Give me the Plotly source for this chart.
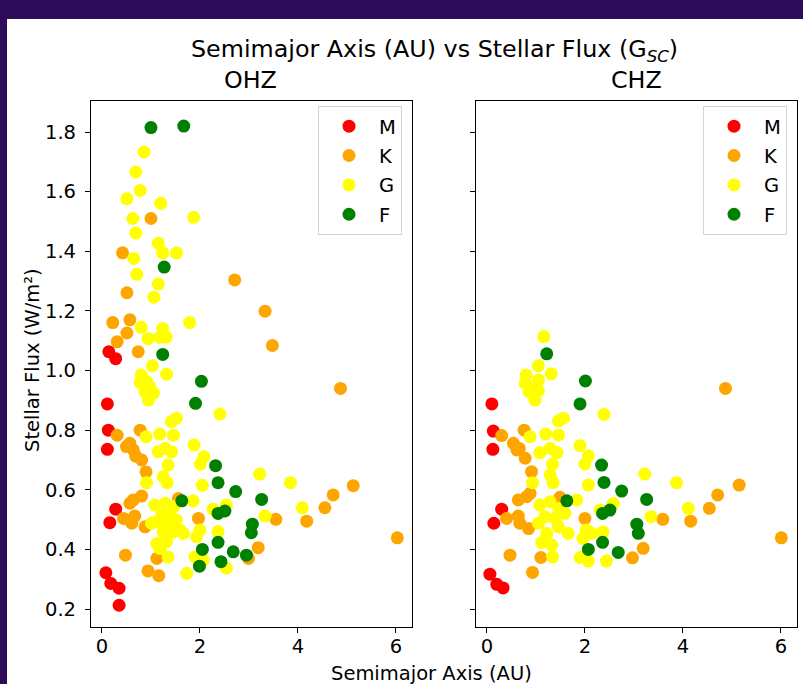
import plotly.graph_objects as go

# ---------------- data ----------------
classes = ["M", "K", "G", "F"]
class_colors = ["red", "orange", "yellow", "green"]

# OHZ panel
ohz_M_a = [0.14, 0.28, 0.11, 0.13, 0.11, 0.28, 0.16, 0.08, 0.18, 0.35, 0.35]
ohz_M_f = [1.063, 1.04, 0.888, 0.80, 0.736, 0.535, 0.49, 0.322, 0.286, 0.27, 0.213]

ohz_K_a = [1.0, 0.42, 2.71, 0.51, 3.33, 3.48, 0.22, 0.57, 0.51, 0.31, 0.74,
           0.31, 0.78, 0.57, 0.64, 0.69, 0.81, 0.50, 0.90,
           0.81, 0.64, 0.57, 1.56, 0.44, 0.61, 0.67, 0.88, 1.97, 3.55,
           3.19, 2.99, 1.12, 0.48, 0.94, 1.16,
           4.87, 5.13, 4.72, 4.55, 4.18, 6.03]
ohz_K_f = [1.51, 1.395, 1.304, 1.261, 1.199, 1.084, 1.161, 1.17, 1.126, 1.097, 1.063,
           0.783, 0.80, 0.756, 0.734, 0.713, 0.70, 0.745, 0.66,
           0.579, 0.566, 0.555, 0.571, 0.504, 0.488, 0.512, 0.476, 0.504, 0.501,
           0.406, 0.37, 0.37, 0.381, 0.328, 0.312,
           0.94, 0.614, 0.583, 0.54, 0.495, 0.439]

ohz_G_a = [0.86, 0.69, 0.78, 0.51, 1.20, 0.63, 1.87, 0.69, 1.15, 0.65, 1.24, 1.52, 0.71,
           1.15, 1.06, 1.79, 0.80, 1.24, 0.94, 1.18, 1.31, 1.03,
           0.80, 0.91, 0.78, 0.98, 0.88, 1.05, 0.95, 1.32,
           2.41, 1.52, 1.42, 0.90, 1.18, 1.46, 1.15, 1.29, 1.42, 1.88, 2.08, 2.01, 1.35,
           1.25, 1.33, 0.91, 2.05, 3.22, 3.85, 1.86,
           1.08, 1.29, 1.46, 1.22, 1.39, 1.12, 1.32, 1.52, 1.01, 1.59, 1.25, 1.46, 1.66,
           2.27, 2.54, 2.0, 1.93, 2.37, 3.33, 4.09,
           1.12, 1.32, 1.18, 1.90, 2.07, 2.54, 1.35, 1.73]
ohz_G_f = [1.733, 1.666, 1.604, 1.576, 1.561, 1.51, 1.514, 1.461, 1.427, 1.376, 1.395, 1.395, 1.323,
           1.29, 1.246, 1.161, 1.145, 1.141, 1.107, 1.112, 1.112, 1.016,
           0.985, 0.963, 0.96, 0.946, 0.929, 0.924, 0.901, 0.988,
           0.854, 0.84, 0.829, 0.778, 0.787, 0.783, 0.728, 0.739, 0.728, 0.75, 0.711, 0.687, 0.683,
           0.644, 0.624, 0.624, 0.615, 0.653, 0.624, 0.563,
           0.549, 0.555, 0.543, 0.521, 0.51, 0.493, 0.488, 0.499, 0.488, 0.465, 0.459, 0.459, 0.454,
           0.535, 0.549, 0.465, 0.443, 0.46, 0.512, 0.54,
           0.42, 0.426, 0.404, 0.375, 0.364, 0.337, 0.375, 0.32]

ohz_F_a = [1.0, 1.67, 1.27, 1.24, 2.03, 1.91, 2.32, 2.37, 2.73, 3.26, 1.63,
           2.37, 2.51, 3.07, 3.05, 2.37, 2.05, 2.68, 2.95, 1.99, 2.43]
ohz_F_f = [1.815, 1.82, 1.347, 1.054, 0.964, 0.89, 0.681, 0.624, 0.594, 0.568, 0.563,
           0.521, 0.529, 0.485, 0.456, 0.424, 0.40, 0.392, 0.381, 0.344, 0.359]

# CHZ panel
chz_M_a = [0.10, 0.13, 0.12, 0.30, 0.14, 0.06, 0.20, 0.33]
chz_M_f = [0.888, 0.797, 0.736, 0.535, 0.488, 0.317, 0.283, 0.271]

chz_K_a = [0.30, 0.76, 0.54, 0.66, 0.78, 0.61, 0.91, 0.64, 0.81, 0.88, 1.49, 0.40, 0.64,
           0.85, 0.67, 2.0, 3.59, 4.16, 4.54, 4.71, 5.15, 6.01, 3.19, 2.97, 1.10, 0.47,
           0.93, 4.87]
chz_K_f = [0.782, 0.80, 0.756, 0.739, 0.706, 0.734, 0.661, 0.566, 0.577, 0.588, 0.575, 0.504, 0.512,
           0.47, 0.488, 0.504, 0.501, 0.495, 0.538, 0.583, 0.616, 0.439, 0.404, 0.372, 0.373, 0.381,
           0.323, 0.94]

chz_G_a = [1.16, 1.05, 0.80, 1.05, 0.78, 0.91, 1.05, 0.98, 0.86, 1.31, 2.39, 1.56, 1.46,
           0.88, 1.20, 1.46, 1.08, 1.29, 1.43, 1.90, 2.07, 2.0, 1.34, 1.29, 1.35, 0.93,
           2.07, 3.22, 3.87, 1.83, 1.08, 1.29, 1.46, 1.18, 1.39, 1.05, 1.59, 1.46, 1.22,
           1.12, 1.32, 1.66, 2.31, 2.58, 2.03, 1.96, 2.37, 2.14, 3.35, 4.11, 1.90, 2.07,
           2.44, 1.34]
chz_G_f = [1.114, 1.016, 0.985, 0.968, 0.957, 0.94, 0.933, 0.901, 0.929, 0.989, 0.853, 0.84, 0.831,
           0.778, 0.787, 0.784, 0.725, 0.739, 0.725, 0.748, 0.714, 0.687, 0.686, 0.65, 0.624, 0.624,
           0.616, 0.653, 0.624, 0.566, 0.549, 0.56, 0.537, 0.51, 0.504, 0.488, 0.521, 0.476, 0.454,
           0.423, 0.415, 0.454, 0.532, 0.554, 0.465, 0.437, 0.459, 0.454, 0.51, 0.538, 0.373, 0.361,
           0.361, 0.375]

chz_F_a = [1.22, 2.01, 1.90, 2.34, 2.39, 2.75, 3.26, 1.63, 2.36, 2.51, 3.06, 3.09, 2.68, 2.36, 2.07]
chz_F_f = [1.056, 0.965, 0.888, 0.683, 0.625, 0.596, 0.568, 0.563, 0.521, 0.532, 0.485, 0.454,
           0.39, 0.424, 0.40]

x_ticks = [0, 2, 4, 6]
y_ticks = [0.2, 0.4, 0.6, 0.8, 1.0, 1.2, 1.4, 1.6, 1.8]
y_tick_labels = ["0.2", "0.4", "0.6", "0.8", "1.0", "1.2", "1.4", "1.6", "1.8"]

# ---------------- figure ----------------
FONT = "DejaVu Sans"
TICK_PX = 19.5
TITLE_PX = 23.8
MARKER = 13

ohz = {"M": (ohz_M_a, ohz_M_f), "K": (ohz_K_a, ohz_K_f),
       "G": (ohz_G_a, ohz_G_f), "F": (ohz_F_a, ohz_F_f)}
chz = {"M": (chz_M_a, chz_M_f), "K": (chz_K_a, chz_K_f),
       "G": (chz_G_a, chz_G_f), "F": (chz_F_a, chz_F_f)}

fig = go.Figure()
for panel, data, xa, ya, leg in [("ohz", ohz, "x", "y", "legend"),
                                 ("chz", chz, "x2", "y2", "legend2")]:
    for cls, col in zip(classes, class_colors):
        a, f = data[cls]
        fig.add_trace(go.Scatter(
            x=a, y=f, mode="markers", name=cls,
            marker=dict(color=col, size=MARKER, line=dict(width=0)),
            xaxis=xa, yaxis=ya, legend=leg, legendgroup=panel + cls,
        ))

axis_common = dict(
    showline=True, linecolor="black", linewidth=1.2, mirror=True,
    ticks="outside", ticklen=5, tickwidth=1.2, tickcolor="black",
    showgrid=False, zeroline=False,
    tickfont=dict(family=FONT, size=TICK_PX, color="black"),
)

x_range = [-0.224, 6.33]
y_range = [0.14, 1.904]

legend_common = dict(
    bgcolor="white", bordercolor="#d4d4d4", borderwidth=1,
    font=dict(family=FONT, size=TICK_PX, color="black"),
    traceorder="grouped", tracegroupgap=1,
    xanchor="right", yanchor="top", itemwidth=50,
)

W, H = 803, 684
L, R, T, B = 91, 6, 101, 57
pw, ph = W - L - R, H - T - B


def px(xp):
    return (xp - L) / pw


def py(yp):
    return (H - B - yp) / ph


fig.update_layout(
    width=W, height=H,
    margin=dict(l=L, r=R, t=T, b=B, pad=0),
    paper_bgcolor="#2c0b58",
    plot_bgcolor="white",
    font=dict(family=FONT, color="black"),
    xaxis=dict(domain=[0, 321 / pw], range=x_range, tickvals=x_ticks,
               ticklabelstandoff=-4, **axis_common),
    xaxis2=dict(domain=[(476 - L) / pw, 1], range=x_range, tickvals=x_ticks,
                ticklabelstandoff=-4, **axis_common),
    yaxis=dict(range=y_range, tickvals=y_ticks, ticktext=y_tick_labels,
               ticklabelstandoff=5, **axis_common),
    yaxis2=dict(range=y_range, tickvals=y_ticks, ticktext=y_tick_labels,
                showticklabels=False, matches="y", anchor="x2", **axis_common),
    legend=dict(x=px(402), y=py(106), **legend_common),
    legend2=dict(x=px(787), y=py(106), **legend_common),
    shapes=[dict(type="rect", xref="paper", yref="paper", layer="below",
                 x0=px(7), x1=px(820), y0=py(700), y1=py(19),
                 fillcolor="white", line=dict(width=0))],
    annotations=[
        dict(text="Semimajor Axis (AU) vs Stellar Flux (G<sub><i>SC</i></sub>)",
             xref="paper", yref="paper", x=px(434), y=py(33),
             xanchor="center", yanchor="top", showarrow=False,
             font=dict(size=TITLE_PX)),
        dict(text="OHZ", xref="paper", yref="paper", x=px(250.5), y=py(96),
             xanchor="center", yanchor="bottom", showarrow=False,
             font=dict(size=TITLE_PX)),
        dict(text="CHZ", xref="paper", yref="paper", x=px(636.5), y=py(96),
             xanchor="center", yanchor="bottom", showarrow=False,
             font=dict(size=TITLE_PX)),
        dict(text="Stellar Flux (W/m²)", xref="paper", yref="paper",
             x=px(32), y=py(360), xanchor="center", yanchor="middle",
             textangle=-90, showarrow=False, font=dict(size=TICK_PX)),
        dict(text="Semimajor Axis (AU)", xref="paper", yref="paper",
             x=px(431), y=py(673), xanchor="center", yanchor="middle",
             showarrow=False, font=dict(size=TICK_PX)),
    ],
)

fig.write_html("out.html",
               config={"displayModeBar": False},
               post_script="document.body.style.margin='0px';"
                           "document.body.style.overflow='hidden';")
